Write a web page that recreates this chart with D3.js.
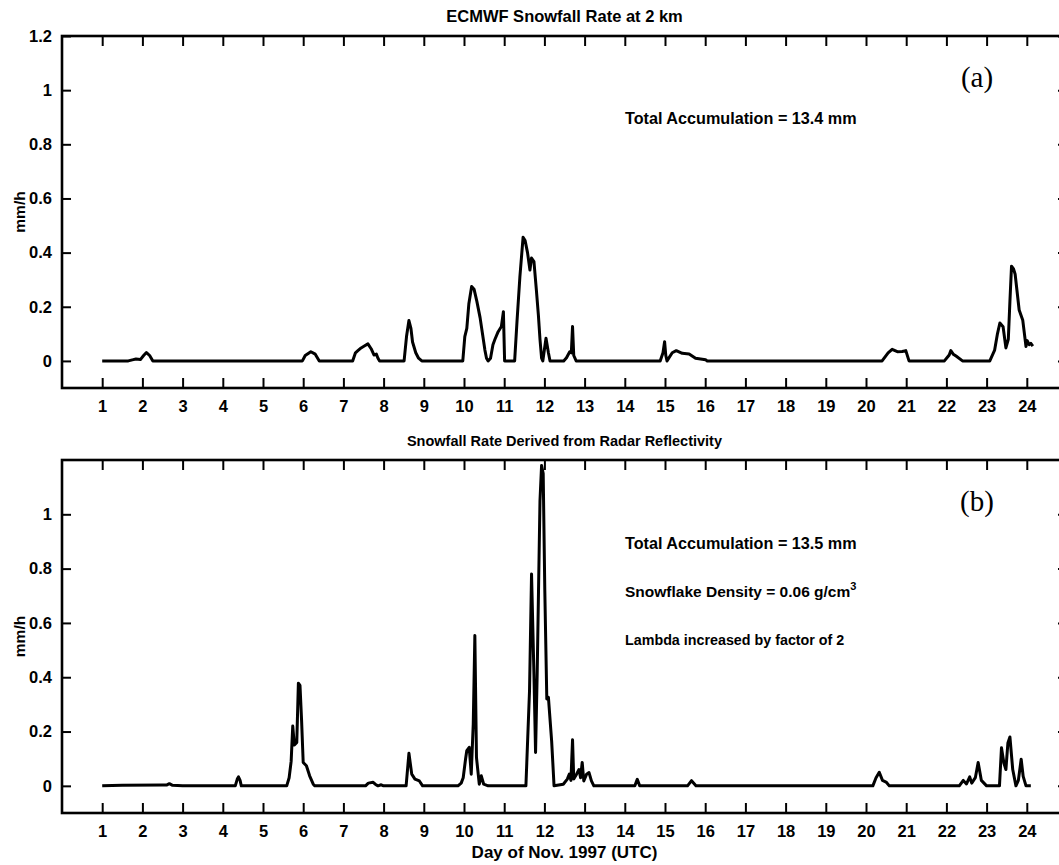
<!DOCTYPE html>
<html>
<head>
<meta charset="utf-8">
<script src="https://cdn.jsdelivr.net/npm/d3@7"></script>
<style>
body { margin: 0; background: #fff; }
svg { display: block; background: #fff; }
text { font-family: "Liberation Sans", Arial, sans-serif; font-weight: bold; fill: #000; }
.panelTag { font-family: "Liberation Serif", "Times New Roman", serif; font-weight: normal; }
</style>
</head>
<body>
<div id="chart"></div>
<script>
// tick labels
var dayTicks = [1,2,3,4,5,6,7,8,9,10,11,12,13,14,15,16,17,18,19,20,21,22,23,24]
var yTicksA = [0,0.2,0.4,0.6,0.8,1,1.2]
var yTicksB = [0,0.2,0.4,0.6,0.8,1]

// (a) ECMWF snowfall rate at 2 km, mm/h
var ecmwfDays = [1.00,1.65,1.75,1.84,1.95,2.03,2.10,2.18,2.26,
  5.98,6.05,6.19,6.30,6.40,
  7.23,7.30,7.36,7.44,7.52,7.61,7.69,7.76,7.82,7.86,7.90,
  8.51,8.57,8.63,8.68,8.72,8.80,8.87,8.95,
  9.97,10.02,10.07,10.12,10.19,10.25,10.32,10.40,10.47,10.52,10.56,10.60,10.66,10.72,10.77,10.85,10.93,10.98,11.01,
  11.26,11.32,11.39,11.47,11.52,11.58,11.64,11.68,11.74,11.80,11.85,11.89,11.93,11.96,12.04,12.10,12.14,
  12.48,12.55,12.63,12.67,12.70,12.73,12.79,
  14.88,14.95,14.99,15.02,15.05,15.18,15.28,15.43,15.60,15.76,16.01,16.05,
  20.40,20.55,20.65,20.78,20.90,20.99,21.07,
  21.95,22.07,22.11,22.17,22.24,22.40,
  23.08,23.20,23.27,23.33,23.41,23.48,23.54,23.58,23.62,23.67,23.71,23.81,23.90,23.98,24.01,24.06,24.10,24.15]
var ecmwfRate = [0,0,0.004,0.007,0.005,0.02,0.031,0.02,0,
  0,0.02,0.034,0.025,0,
  0,0.03,0.038,0.048,0.055,0.063,0.045,0.022,0.025,0.01,0,
  0,0.09,0.149,0.12,0.07,0.03,0.01,0,
  0,0.09,0.12,0.21,0.275,0.265,0.22,0.16,0.09,0.04,0.01,0,0.01,0.06,0.08,0.108,0.127,0.182,0,
  0,0.15,0.31,0.457,0.445,0.40,0.336,0.38,0.367,0.262,0.17,0.08,0.01,0,0.084,0.03,0,
  0,0.012,0.034,0.03,0.127,0.02,0,
  0,0.03,0.071,0.02,0,0.03,0.038,0.028,0.026,0.01,0.004,0,
  0,0.03,0.043,0.034,0.035,0.038,0,
  0,0.022,0.038,0.025,0.018,0,
  0,0.04,0.10,0.14,0.126,0.048,0.08,0.22,0.35,0.34,0.32,0.188,0.15,0.053,0.075,0.06,0.065,0.055]

// (b) snowfall rate derived from radar reflectivity, mm/h
var radarDays = [1.00,1.50,2.50,2.60,2.67,2.75,3.00,
  4.31,4.36,4.39,4.43,4.46,
  5.59,5.65,5.70,5.74,5.78,5.84,5.88,5.92,5.96,6.00,6.08,6.16,6.25,6.29,
  7.55,7.62,7.74,7.80,7.86,7.94,8.00,
  8.56,8.63,8.70,8.78,8.89,8.97,
  9.85,9.93,9.98,10.04,10.07,10.13,10.18,10.23,10.27,10.31,10.38,10.43,10.49,10.60,
  11.54,11.63,11.68,11.74,11.78,11.82,11.89,11.93,11.97,12.01,12.06,12.10,12.18,12.24,
  12.47,12.57,12.62,12.66,12.70,12.73,12.80,12.86,12.90,12.94,12.98,13.05,13.11,13.17,13.23,
  14.25,14.31,14.37,
  15.56,15.66,15.77,
  20.17,20.25,20.33,20.41,20.50,20.58,
  22.32,22.42,22.50,22.58,22.63,22.72,22.79,22.87,23.00,
  23.32,23.37,23.43,23.48,23.53,23.58,23.65,23.73,23.79,23.86,23.91,23.98,24.10]
var radarRate = [0,0.002,0.003,0.003,0.008,0.002,0,
  0,0.025,0.033,0.02,0,
  0,0.03,0.09,0.22,0.15,0.16,0.378,0.37,0.24,0.086,0.074,0.037,0.006,0,
  0,0.01,0.013,0.005,0,0.004,0,
  0,0.12,0.043,0.025,0.018,0,
  0,0.01,0.03,0.10,0.13,0.142,0.043,0.228,0.554,0.105,0.006,0.037,0.006,0,
  0,0.35,0.78,0.41,0.123,0.41,1.05,1.18,1.15,0.72,0.32,0.326,0.166,0,
  0.006,0.025,0.043,0.02,0.17,0.025,0.043,0.06,0.03,0.086,0.018,0.043,0.049,0.018,0,
  0,0.024,0,
  0,0.019,0,
  0,0.03,0.05,0.02,0.014,0,
  0,0.02,0.007,0.033,0.01,0.03,0.086,0.02,0,
  0,0.14,0.084,0.06,0.158,0.18,0.06,0,0.02,0.098,0.035,0,0]

var W = 1059, H = 865

var svg = d3.select("#chart").append("svg")
  .attr("width", W).attr("height", H)

// x axis shared by both panels, right frame edge falls just off the page
var x = d3.scaleLinear().domain([0, 25]).range([62, 1067])

function zip(a, b) {
  var out = []
  for (var i = 0; i < a.length; i++) out.push([a[i], b[i]])
  return out
}

function drawPanel(top, bottom, yTicks, days, rate, title, titleSize, tag) {
  var y = d3.scaleLinear().domain([-0.1, 1.2]).range([bottom, top])
  var g = svg.append("g")

  // ticks on all four sides, pointing inward
  g.append("g").attr("transform", "translate(0," + bottom + ")")
    .call(d3.axisBottom(x).tickValues(dayTicks).tickSize(-10).tickPadding(12).tickFormat(d3.format("d")))
  g.append("g").attr("transform", "translate(0," + top + ")")
    .call(d3.axisTop(x).tickValues(dayTicks).tickSize(-10).tickFormat(""))
  g.append("g").attr("transform", "translate(" + x(0) + ",0)")
    .call(d3.axisLeft(y).tickValues(yTicks).tickSize(-9).tickPadding(10).tickFormat(function(d){ return String(d) }))
  g.append("g").attr("transform", "translate(" + x(25) + ",0)")
    .call(d3.axisRight(y).tickValues(yTicks).tickSize(-9).tickFormat(""))

  g.selectAll(".domain").remove()
  g.selectAll(".tick line").attr("stroke", "#000").attr("stroke-width", 2)
  g.selectAll(".tick text").style("font-size", "16.5px").style("font-family", "'Liberation Sans', Arial, sans-serif").style("font-weight", "bold")

  // frame
  g.append("rect")
    .attr("x", x(0)).attr("y", top)
    .attr("width", x(25) - x(0)).attr("height", bottom - top)
    .attr("fill", "none").attr("stroke", "#000").attr("stroke-width", 2.6)

  var line = d3.line()
    .x(function(d){ return x(d[0]) })
    .y(function(d){ return y(d[1]) })

  g.append("path")
    .datum(zip(days, rate))
    .attr("d", line)
    .attr("fill", "none")
    .attr("stroke", "#000")
    .attr("stroke-width", 3)
    .attr("stroke-linejoin", "round")

  g.append("text")
    .attr("x", (x(0) + x(25)) / 2).attr("y", top - 14)
    .attr("text-anchor", "middle").style("font-size", titleSize)
    .text(title)

  g.append("text")
    .attr("transform", "translate(25," + ((top + bottom) / 2) + ")rotate(-90)")
    .attr("text-anchor", "middle").style("font-size", "15.5px")
    .text("mm/h")

  g.append("text").attr("class", "panelTag")
    .attr("x", 977).attr("y", top + 51)
    .attr("text-anchor", "middle").style("font-size", "29px")
    .text(tag)

  return y
}

var yA = drawPanel(36, 388, yTicksA, ecmwfDays, ecmwfRate, "ECMWF Snowfall Rate at 2 km", "16.5px", "(a)")
var yB = drawPanel(460, 813, yTicksB, radarDays, radarRate, "Snowfall Rate Derived from Radar Reflectivity", "14.5px", "(b)")

// annotations
svg.append("text").attr("x", 625).attr("y", 124).style("font-size", "16.2px")
  .text("Total Accumulation = 13.4 mm")
svg.append("text").attr("x", 625).attr("y", 549).style("font-size", "16.2px")
  .text("Total Accumulation = 13.5 mm")
var dens = svg.append("text").attr("x", 625).attr("y", 597).style("font-size", "15.5px")
dens.append("tspan").text("Snowflake Density = 0.06 g/cm")
dens.append("tspan").attr("dy", -7).style("font-size", "11px").text("3")
svg.append("text").attr("x", 625).attr("y", 645).style("font-size", "14.3px")
  .text("Lambda increased by factor of 2")

svg.append("text")
  .attr("x", (x(0) + x(25)) / 2).attr("y", 858)
  .attr("text-anchor", "middle").style("font-size", "17px")
  .text("Day of Nov. 1997 (UTC)")
</script>
</body>
</html>
